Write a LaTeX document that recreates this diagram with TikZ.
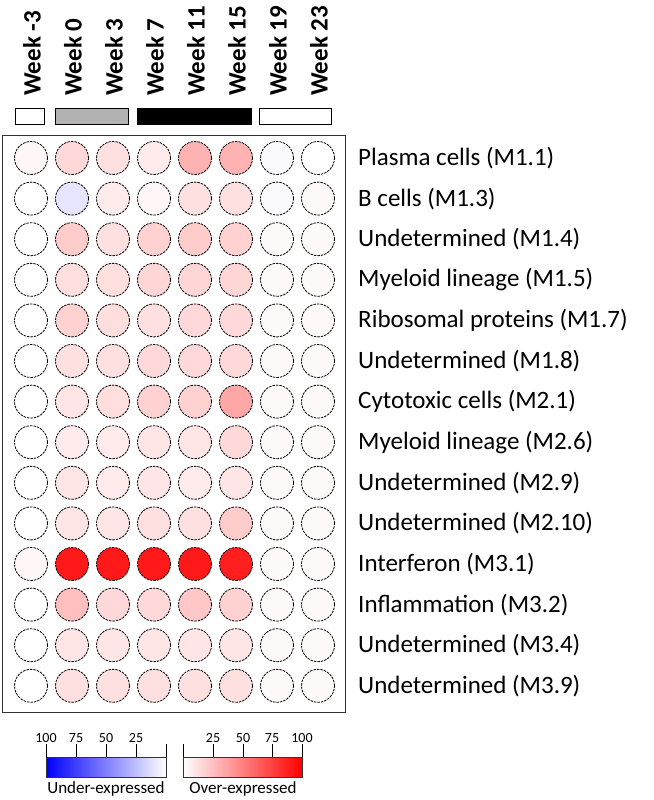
\documentclass[tikz,border=0pt]{standalone}
\usepackage{fontspec}
\setmainfont{Carlito}
\begin{document}
\begin{tikzpicture}[x=1pt,y=-1pt,
  dot/.style={circle,draw=black,dashed,dash pattern=on 2.5pt off 1pt,line width=0.8pt,minimum size=33pt,inner sep=0pt},
  modlabel/.style={anchor=west,font=\fontsize{25}{25}\selectfont,inner sep=0pt},
  weeklabel/.style={rotate=90,anchor=west,font=\bfseries\fontsize{25}{25}\selectfont,inner sep=0pt},
  tick/.style={font=\fontsize{14}{14}\selectfont,inner sep=0pt}]
\useasboundingbox (0,0) rectangle (653,800);
% weeks
\foreach \i/\w in {1/-3,2/0,3/3,4/7,5/11,6/15,7/19,8/23}
  \node[weeklabel] (w\i) at ({31+41*(\i-1)+1},96) {Week \w};
% phase bars
\draw[fill=white,line width=1pt] (15,108) rectangle (44,124);
\draw[fill=black!30,line width=1pt] (55,108) rectangle (128,124);
\draw[fill=black,line width=1pt] (137,108) rectangle (251,124);
\draw[fill=white,line width=1pt] (259,108) rectangle (331,124);
% frame
\draw[black!80,line width=1pt] (2,135) rectangle (345,712);
% modules
\foreach \r/\lab/\a/\b/\c/\d/\e/\f/\g/\h in {
  1/Plasma cells (M1.1)/red!3/red!15/red!12/red!8/red!30/red!30/blue!2/white,
  2/B cells (M1.3)/white/blue!10/red!8/red!3/red!12/red!12/blue!2/red!2,
  3/Undetermined (M1.4)/white/red!20/red!12/red!18/red!20/red!18/red!2/red!2,
  4/Myeloid lineage (M1.5)/white/red!13/red!13/red!16/red!16/red!16/red!2/red!2,
  5/Ribosomal proteins (M1.7)/white/red!18/red!13/red!12/red!15/red!15/red!2/red!2,
  6/Undetermined (M1.8)/white/red!12/red!12/red!15/red!15/red!15/red!2/red!2,
  7/Cytotoxic cells (M2.1)/white/red!10/red!13/red!18/red!18/red!35/red!2/red!2,
  8/Myeloid lineage (M2.6)/white/red!8/red!8/red!10/red!10/red!15/red!2/red!2,
  9/Undetermined (M2.9)/white/red!10/red!8/red!10/red!8/red!10/red!2/red!2,
  10/Undetermined (M2.10)/white/red!10/red!10/red!12/red!12/red!20/red!2/red!2,
  11/Interferon (M3.1)/red!3/red!90/red!90/red!90/red!90/red!88/red!2/red!2,
  12/Inflammation (M3.2)/white/red!25/red!15/red!15/red!22/red!18/red!2/red!2,
  13/Undetermined (M3.4)/white/red!10/red!10/red!10/red!10/red!10/red!2/red!2,
  14/Undetermined (M3.9)/white/red!12/red!12/red!12/red!12/red!12/red!2/red!2}{
  \foreach \i/\col in {1/\a,2/\b,3/\c,4/\d,5/\e,6/\f,7/\g,8/\h}
    \node[dot,fill=\col] (c\r-\i) at ({31+41*(\i-1)},{158+40.6*(\r-1)}) {};
  \node[modlabel] (m\r) at (358,{158+40.6*(\r-1)}) {\lab};
}
% legend
\shade[left color=blue,right color=white] (46,757) rectangle (166,777);
\shade[left color=white,right color=red] (183,757) rectangle (302,777);
\draw[black!80] (46,757) rectangle (166,777) (183,757) rectangle (302,777);
\foreach \x/\t in {46/100,76/75,106/50,136/25}{
  \draw (\x,744) -- (\x,757);
  \node[tick] (u\t) at (\x,738) {\t};}
\draw (166,744) -- (166,757);
\draw (183,744) -- (183,757);
\foreach \x/\t in {213/25,243/50,272/75,302/100}{
  \draw (\x,744) -- (\x,757);
  \node[tick] (o\t) at (\x,738) {\t};}
\node[font=\fontsize{17}{17}\selectfont] (under) at (106,789) {Under-expressed};
\node[font=\fontsize{17}{17}\selectfont] (over) at (243,789) {Over-expressed};
\end{tikzpicture}
\end{document}
